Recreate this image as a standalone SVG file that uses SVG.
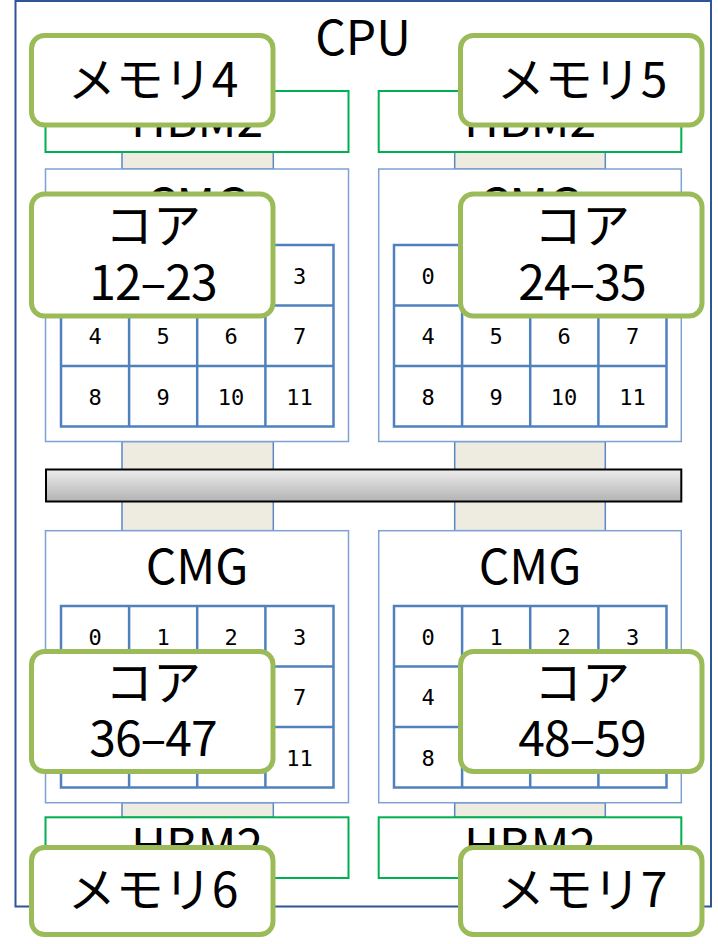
<svg xmlns="http://www.w3.org/2000/svg" width="718" height="944" viewBox="0 0 718 944">
<style>
.cpu{fill:#fff;stroke:#2F5597;stroke-width:2}
.hbm{fill:#fff;stroke:#00B050;stroke-width:2}
.cmg{fill:#fff;stroke:#7EA1D3;stroke-width:1.5}
.grid{fill:none;stroke:#4F81BD;stroke-width:2.5}
.link{fill:#EEECE1;stroke:#5B87C5;stroke-width:1.5}
.lbl{fill:#fff;stroke:#9BBB59;stroke-width:5}
.big{font-family:"Noto Sans CJK JP","Noto Sans",sans-serif;font-size:48px;fill:#000;text-anchor:middle}
.rng{letter-spacing:-1px}
.num{font-family:"DejaVu Sans Mono","Liberation Mono",monospace;font-size:22px;fill:#000;text-anchor:middle}
</style>
<defs>
<linearGradient id="barg" x1="0" y1="0" x2="0" y2="1">
<stop offset="0" stop-color="#EDEDED"/>
<stop offset="1" stop-color="#B3B3B3"/>
</linearGradient>
<g id="cells">
<rect x="0" y="0" width="272.5" height="181.5" class="grid"/>
<path d="M68.1 0V181.5M136.2 0V181.5M204.4 0V181.5M0 60.5H272.5M0 121H272.5" class="grid"/>
<text class="num" x="34" y="38.5">0</text><text class="num" x="102" y="38.5">1</text><text class="num" x="170" y="38.5">2</text><text class="num" x="238.5" y="38.5">3</text>
<text class="num" x="34" y="99">4</text><text class="num" x="102" y="99">5</text><text class="num" x="170" y="99">6</text><text class="num" x="238.5" y="99">7</text>
<text class="num" x="34" y="159.5">8</text><text class="num" x="102" y="159.5">9</text><text class="num" x="170" y="159.5">10</text><text class="num" x="238.5" y="159.5">11</text>
</g>
</defs>
<g id="cpu">
<rect class="cpu" x="15.5" y="1" width="695.5" height="905.5"/>
<text class="big" x="363" y="55">CPU</text>
</g>
<g id="connectors">
<rect class="link" x="122" y="152" width="151.3" height="17"/>
<rect class="link" x="454.7" y="152" width="150.6" height="17"/>
<rect class="link" x="122" y="441.5" width="151.3" height="89.2"/>
<rect class="link" x="454.7" y="441.5" width="150.6" height="89.2"/>
<rect class="link" x="122" y="802.7" width="151.3" height="14.6"/>
<rect class="link" x="454.7" y="802.7" width="150.6" height="14.6"/>
</g>
<g id="hbm2-tl"><rect class="hbm" x="45.5" y="91" width="303" height="61"/><text class="big" x="197" y="137">HBM2</text></g>
<g id="hbm2-tr"><rect class="hbm" x="378.7" y="91" width="302.6" height="61"/><text class="big" x="530" y="137">HBM2</text></g>
<g id="hbm2-bl"><rect class="hbm" x="45.5" y="817.3" width="303" height="60.7"/><text class="big" x="197" y="863">HBM2</text></g>
<g id="hbm2-br"><rect class="hbm" x="378.7" y="817.3" width="302.6" height="60.7"/><text class="big" x="530" y="863">HBM2</text></g>
<g id="cmg-tl"><rect class="cmg" x="45.5" y="169" width="303" height="272.5"/><text class="big" x="197" y="223">CMG</text><use href="#cells" x="61" y="245"/></g>
<g id="cmg-tr"><rect class="cmg" x="378.7" y="169" width="302.6" height="272.5"/><text class="big" x="530" y="223">CMG</text><use href="#cells" x="394" y="245"/></g>
<g id="cmg-bl"><rect class="cmg" x="45.5" y="530.7" width="303" height="272"/><text class="big" x="197" y="584">CMG</text><use href="#cells" x="61" y="606"/></g>
<g id="cmg-br"><rect class="cmg" x="378.7" y="530.7" width="302.6" height="272"/><text class="big" x="530" y="584">CMG</text><use href="#cells" x="394" y="606"/></g>
<g id="bus"><rect x="46" y="469.5" width="635.3" height="32" fill="url(#barg)" stroke="#000" stroke-width="2"/></g>
<g id="mem4"><rect class="lbl" x="31.5" y="35.5" width="241.5" height="89.5" rx="13"/><text class="big" x="153" y="97">メモリ4</text></g>
<g id="mem5"><rect class="lbl" x="460.5" y="35.5" width="241.5" height="89.5" rx="13"/><text class="big" x="582" y="97">メモリ5</text></g>
<g id="core12"><rect class="lbl" x="31.5" y="194" width="241.5" height="122" rx="13"/><text class="big" x="153" y="243">コア</text><text class="big rng" x="153" y="300">12–23</text></g>
<g id="core24"><rect class="lbl" x="460.5" y="194" width="241.5" height="122" rx="13"/><text class="big" x="582" y="243">コア</text><text class="big rng" x="582" y="300">24–35</text></g>
<g id="core36"><rect class="lbl" x="31.5" y="651.5" width="241.5" height="120" rx="13"/><text class="big" x="153" y="700">コア</text><text class="big rng" x="153" y="756">36–47</text></g>
<g id="core48"><rect class="lbl" x="460.5" y="651.5" width="241.5" height="120" rx="13"/><text class="big" x="582" y="700">コア</text><text class="big rng" x="582" y="756">48–59</text></g>
<g id="mem6"><rect class="lbl" x="31.5" y="847.5" width="241.5" height="87" rx="13"/><text class="big" x="153" y="907">メモリ6</text></g>
<g id="mem7"><rect class="lbl" x="460.5" y="847.5" width="241.5" height="87" rx="13"/><text class="big" x="582" y="907">メモリ7</text></g>
</svg>
